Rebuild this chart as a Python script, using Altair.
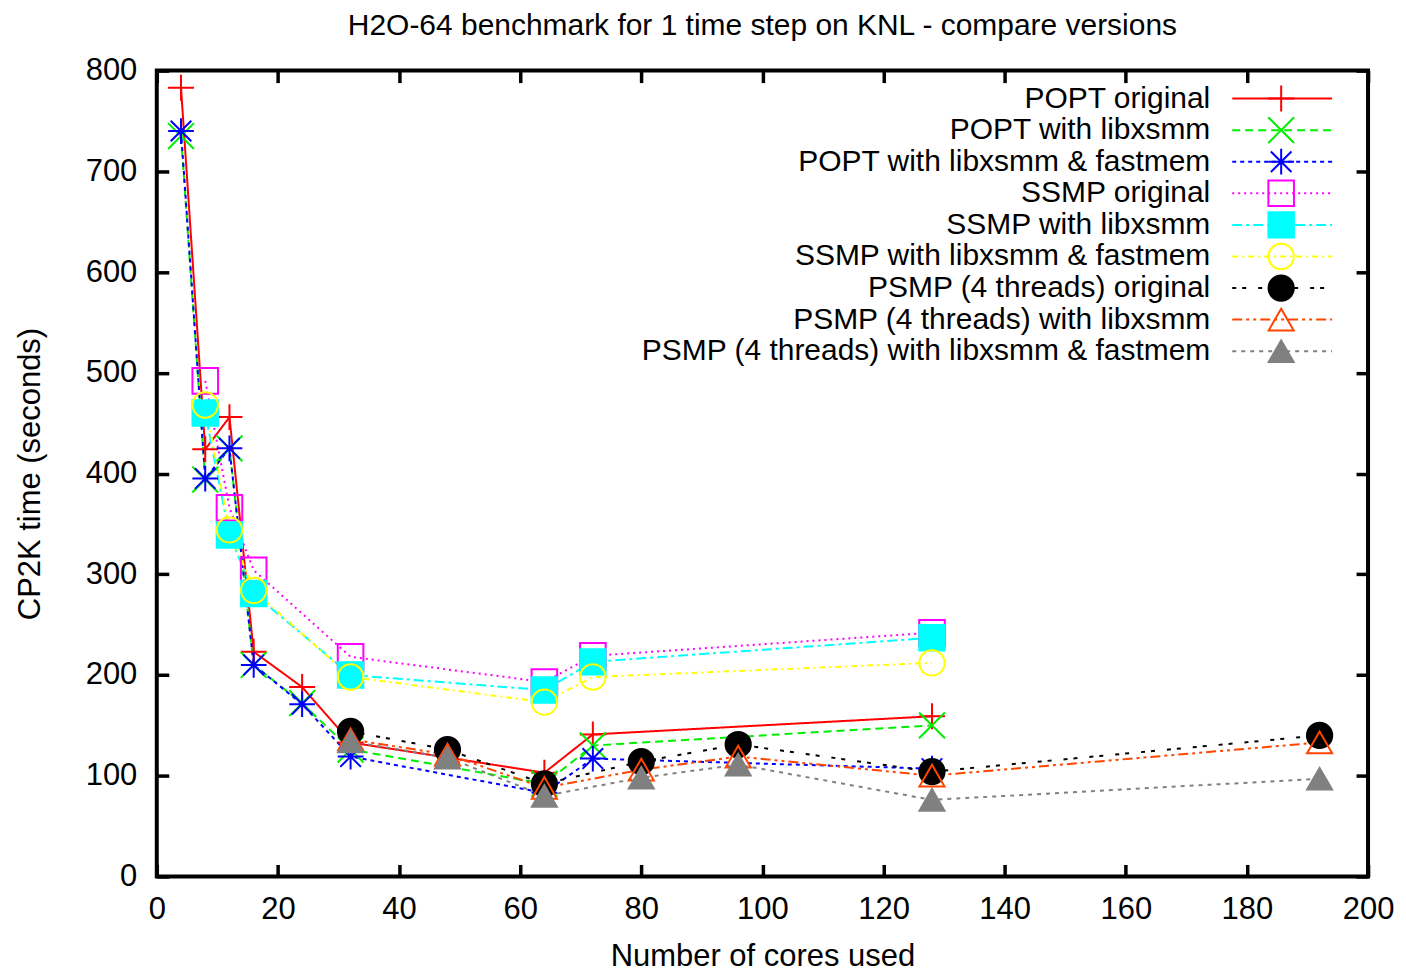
import altair as alt
import pandas as pd

series = [
    "POPT original",
    "POPT with libxsmm",
    "POPT with libxsmm & fastmem",
    "SSMP original",
    "SSMP with libxsmm",
    "SSMP with libxsmm & fastmem",
    "PSMP (4 threads) original",
    "PSMP (4 threads) with libxsmm",
    "PSMP (4 threads) with libxsmm & fastmem",
]

popt_cores = [4, 8, 12, 16, 24, 32, 64, 72, 128]
ssmp_cores = [8, 12, 16, 32, 64, 72, 128]
psmp_cores = [32, 48, 64, 80, 96, 128, 192]

popt_original = [783, 424, 456, 223, 188, 133, 103, 141, 159]
popt_libxsmm = [735, 394, 425, 210, 172, 126, 92, 130, 150]
popt_libxsmm_fastmem = [740, 395, 425, 210, 171, 119, 83, 117, 107]

ssmp_original = [492, 366, 304, 218, 193, 219, 242]
ssmp_libxsmm = [460, 339, 281, 200, 185, 213, 237]
ssmp_libxsmm_fastmem = [468, 344, 284, 198, 173, 198, 212]

psmp_original = [144, 126, 92, 114, 131, 104, 140]
psmp_libxsmm = [136, 121, 88, 106, 119, 100, 133]
psmp_libxsmm_fastmem = [134, 118, 80, 98, 111, 76, 97]

x_ticks = [0, 20, 40, 60, 80, 100, 120, 140, 160, 180, 200]
y_ticks = [0, 100, 200, 300, 400, 500, 600, 700, 800]

colors = ["#ff0000", "#00ee00", "#0000ff", "#ff00ff", "#00ffff",
          "#ffff00", "#000000", "#ff4500", "#808080"]
dashes = [[1, 0], [8, 5], [4, 4], [2, 4], [10, 4, 3, 4],
          [6, 4, 2, 4], [4, 6, 4, 12], [10, 4, 3, 4, 3, 4], [4, 5]]
PLUS = "M-1,0L1,0M0,-1L0,1"
CROSS = "M-1,-1L1,1M-1,1L1,-1"
STAR = "M-1,0L1,0M0,-1L0,1M-0.8,-0.8L0.8,0.8M-0.8,0.8L0.8,-0.8"
shapes = [PLUS, CROSS, STAR, "square", "square", "circle", "circle",
          "triangle-up", "triangle-up"]
fills = ["transparent", "transparent", "transparent", "transparent", "#00ffff",
         "transparent", "#000000", "transparent", "#808080"]
sizes = [676, 625, 676, 676, 576, 625, 529, 576, 576]

rows = []
data_sets = [
    (series[0], popt_cores, popt_original),
    (series[1], popt_cores, popt_libxsmm),
    (series[2], popt_cores, popt_libxsmm_fastmem),
    (series[3], ssmp_cores, ssmp_original),
    (series[4], ssmp_cores, ssmp_libxsmm),
    (series[5], ssmp_cores, ssmp_libxsmm_fastmem),
    (series[6], psmp_cores, psmp_original),
    (series[7], psmp_cores, psmp_libxsmm),
    (series[8], psmp_cores, psmp_libxsmm_fastmem),
]
for name, xs, ys in data_sets:
    for xv, yv in zip(xs, ys):
        rows.append({"series": name, "cores": xv, "time": yv})
df = pd.DataFrame(rows)
leg_df = pd.DataFrame({"series": series})

FONT = "Liberation Sans"

xscale = alt.Scale(domain=[0, 200], nice=False, zero=False)
yscale = alt.Scale(domain=[0, 800], nice=False, zero=False)

stroke_enc = alt.Stroke("series:N", scale=alt.Scale(domain=series, range=colors), legend=None)
dash_enc = alt.StrokeDash("series:N", scale=alt.Scale(domain=series, range=dashes), legend=None)
shape_enc = alt.Shape("series:N", scale=alt.Scale(domain=series, range=shapes), legend=None)
fill_enc = alt.Fill("series:N", scale=alt.Scale(domain=series, range=fills), legend=None)
size_enc = alt.Size("series:N", scale=alt.Scale(domain=series, range=sizes), legend=None)

tick_common = dict(offset=-12, tickSize=12, tickWidth=3.5, tickColor="black",
                   domain=False, grid=False, labelFlush=False)

lines = alt.Chart(df).mark_line(strokeWidth=2).encode(
    x=alt.X("cores:Q", scale=xscale,
            axis=alt.Axis(orient="bottom", values=x_ticks, title="Number of cores used",
                          labelPadding=18, labelFontSize=31, labelFont=FONT,
                          labelColor="black", titleFontSize=31, titleFont=FONT,
                          titleFontWeight="normal", titleColor="black", titlePadding=17,
                          **tick_common)),
    y=alt.Y("time:Q", scale=yscale,
            axis=alt.Axis(orient="left", values=y_ticks, title="CP2K time (seconds)",
                          labelPadding=20, labelFontSize=31, labelFont=FONT,
                          labelColor="black", titleFontSize=31, titleFont=FONT,
                          titleFontWeight="normal", titleColor="black", titlePadding=39,
                          **tick_common)),
    stroke=stroke_enc,
    strokeDash=dash_enc,
    detail="series:N",
)

points = alt.Chart(df).mark_point(strokeWidth=2, opacity=1).encode(
    x=alt.X("cores:Q", scale=xscale, title="",
            axis=alt.Axis(orient="top", values=x_ticks, labels=False, **tick_common)),
    y=alt.Y("time:Q", scale=yscale, title="",
            axis=alt.Axis(orient="right", values=y_ticks, labels=False, **tick_common)),
    stroke=stroke_enc,
    fill=fill_enc,
    shape=shape_enc,
    size=size_enc,
)

main = alt.layer(lines, points).resolve_axis(x="independent", y="independent")

y_leg = alt.Y("series:N", scale=alt.Scale(type="point", domain=series, range=[28, 281], padding=0),
              axis=None)

leg_rule = alt.Chart(leg_df).mark_rule(strokeWidth=2).encode(
    x=alt.value(1077), x2=alt.value(1177), y=y_leg,
    stroke=stroke_enc, strokeDash=dash_enc,
)
leg_pts = alt.Chart(leg_df).mark_point(strokeWidth=2, opacity=1).encode(
    x=alt.value(1126), y=y_leg,
    stroke=stroke_enc, fill=fill_enc, shape=shape_enc, size=size_enc,
)
leg_txt = alt.Chart(leg_df).mark_text(align="right", baseline="middle", fontSize=30,
                                       font=FONT, color="black").encode(
    x=alt.value(1055), y=y_leg, text="series:N",
)
legend = alt.layer(leg_rule, leg_pts, leg_txt)

chart = alt.layer(main, legend).resolve_scale(y="independent").properties(
    width=1213,
    height=807,
    title=alt.TitleParams(text="H2O-64 benchmark for 1 time step on KNL - compare versions",
                          fontSize=30, font=FONT, fontWeight="normal", color="black",
                          anchor="middle", frame="group", offset=14),
    autosize=alt.AutoSizeParams(type="none"),
    padding={"left": 149, "top": 62, "right": 30, "bottom": 96},
).configure_view(
    stroke="black", strokeWidth=4
)

chart.save("out.html", embed_options={"renderer": "svg", "actions": False})
